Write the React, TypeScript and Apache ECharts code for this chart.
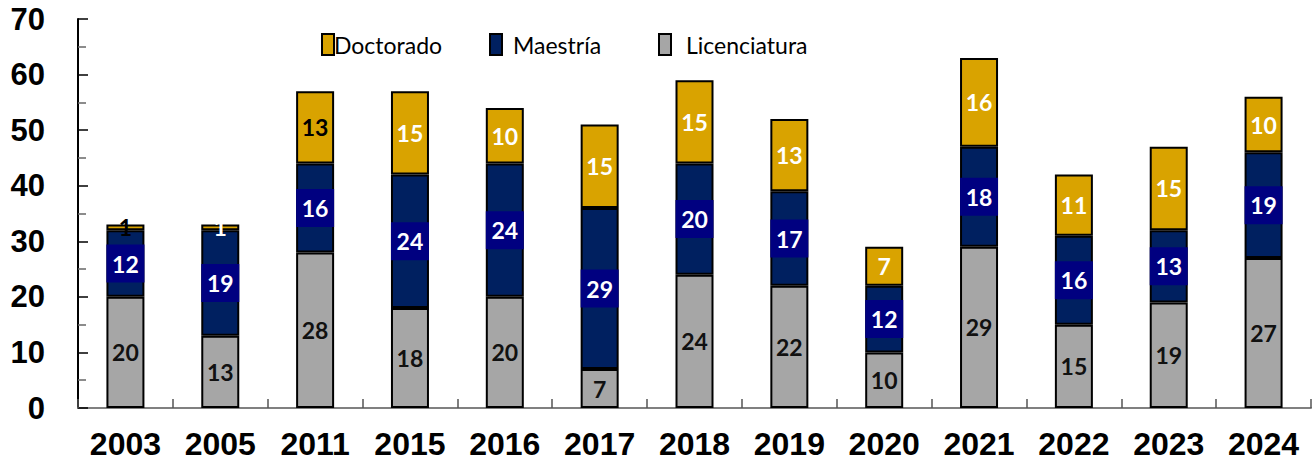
import React, { useEffect, useRef } from "react";
import * as echarts from "echarts";

const years = ["2003", "2005", "2011", "2015", "2016", "2017", "2018", "2019", "2020", "2021", "2022", "2023", "2024"];
const licenciatura = [20, 13, 28, 18, 20, 7, 24, 22, 10, 29, 15, 19, 27];
const maestria = [12, 19, 16, 24, 24, 29, 20, 17, 12, 18, 16, 13, 19];
const doctorado = [1, 1, 13, 15, 10, 15, 15, 13, 7, 16, 11, 15, 10];
const yTicks = [0, 10, 20, 30, 40, 50, 60, 70];

export default function App() {
  const ref = useRef<HTMLDivElement>(null);
  useEffect(() => {
    if (!ref.current) return;
    const chart = echarts.init(ref.current, null, { renderer: "svg" });
    const labelFont = "Lato";
    const darkDoc = new Set(["2003", "2011"]);
    const legendBase = {
      orient: "horizontal",
      top: 28,
      itemWidth: 12,
      itemHeight: 21,
      icon: "rect",
      selectedMode: false,
      textStyle: { fontFamily: labelFont, fontSize: 23, color: "#000" },
    };
    chart.setOption({
      animation: false,
      backgroundColor: "#fff",
      legend: [
        { ...legendBase, left: 316, data: ["Doctorado"], textStyle: { ...legendBase.textStyle, padding: [0, 0, 0, -5] } },
        { ...legendBase, left: 484, data: ["Maestría"], textStyle: { ...legendBase.textStyle, padding: [0, 0, 0, 6] } },
        { ...legendBase, left: 653, data: ["Licenciatura"], textStyle: { ...legendBase.textStyle, padding: [0, 0, 0, 10] } },
      ],
      grid: { left: 78, right: 1, top: 19, bottom: 57, containLabel: false },
      xAxis: {
        type: "category",
        data: years,
        axisLine: { show: true, lineStyle: { color: "#808080", width: 2 } },
        axisTick: { show: true, inside: true, length: 9, alignWithLabel: false, lineStyle: { color: "#555", width: 1.5 } },
        axisLabel: { fontFamily: "Liberation Sans", fontWeight: "bold", fontSize: 32, color: "#000", margin: 20 },
      },
      yAxis: {
        type: "value",
        min: yTicks[0],
        max: yTicks[yTicks.length - 1],
        interval: 10,
        axisLine: { show: true, lineStyle: { color: "#000", width: 2 } },
        axisTick: { show: true, inside: true, length: 10, lineStyle: { color: "#000", width: 1.5 } },
        minorTick: { show: true, splitNumber: 2, length: 8, lineStyle: { color: "#666", width: 1.5 } },
        splitLine: { show: false },
        axisLabel: { fontFamily: "Liberation Sans", fontWeight: "bold", fontSize: 31, color: "#000", margin: 33 },
      },
      series: [
        {
          name: "Licenciatura",
          type: "bar",
          stack: "total",
          barWidth: 38,
          data: licenciatura,
          itemStyle: { color: "#A6A6A6", borderColor: "#000", borderWidth: 2 },
          label: { show: true, position: "inside", fontFamily: labelFont, fontWeight: "bold", fontSize: 23, color: "#111" },
        },
        {
          name: "Maestría",
          type: "bar",
          stack: "total",
          barWidth: 38,
          data: maestria,
          itemStyle: { color: "#002060", borderColor: "#000", borderWidth: 2 },
          label: {
            show: true,
            position: "inside",
            fontFamily: labelFont,
            fontWeight: "bold",
            fontSize: 23,
            color: "#fff",
            backgroundColor: "#000080",
            width: 38,
            height: 38,
            lineHeight: 38,
            align: "center",
          },
        },
        {
          name: "Doctorado",
          type: "bar",
          stack: "total",
          barWidth: 38,
          data: doctorado.map((v, i) => ({
            value: v,
            label: { color: darkDoc.has(years[i]) ? "#000" : "#fff" },
          })),
          itemStyle: { color: "#D9A300", borderColor: "#000", borderWidth: 2 },
          label: { show: true, position: "inside", fontFamily: labelFont, fontWeight: "bold", fontSize: 23, color: "#fff" },
        },
      ],
    });
    return () => chart.dispose();
  }, []);
  return <div ref={ref} style={{ width: 1312, height: 465, position: "absolute", left: 0, top: 0 }} />;
}
